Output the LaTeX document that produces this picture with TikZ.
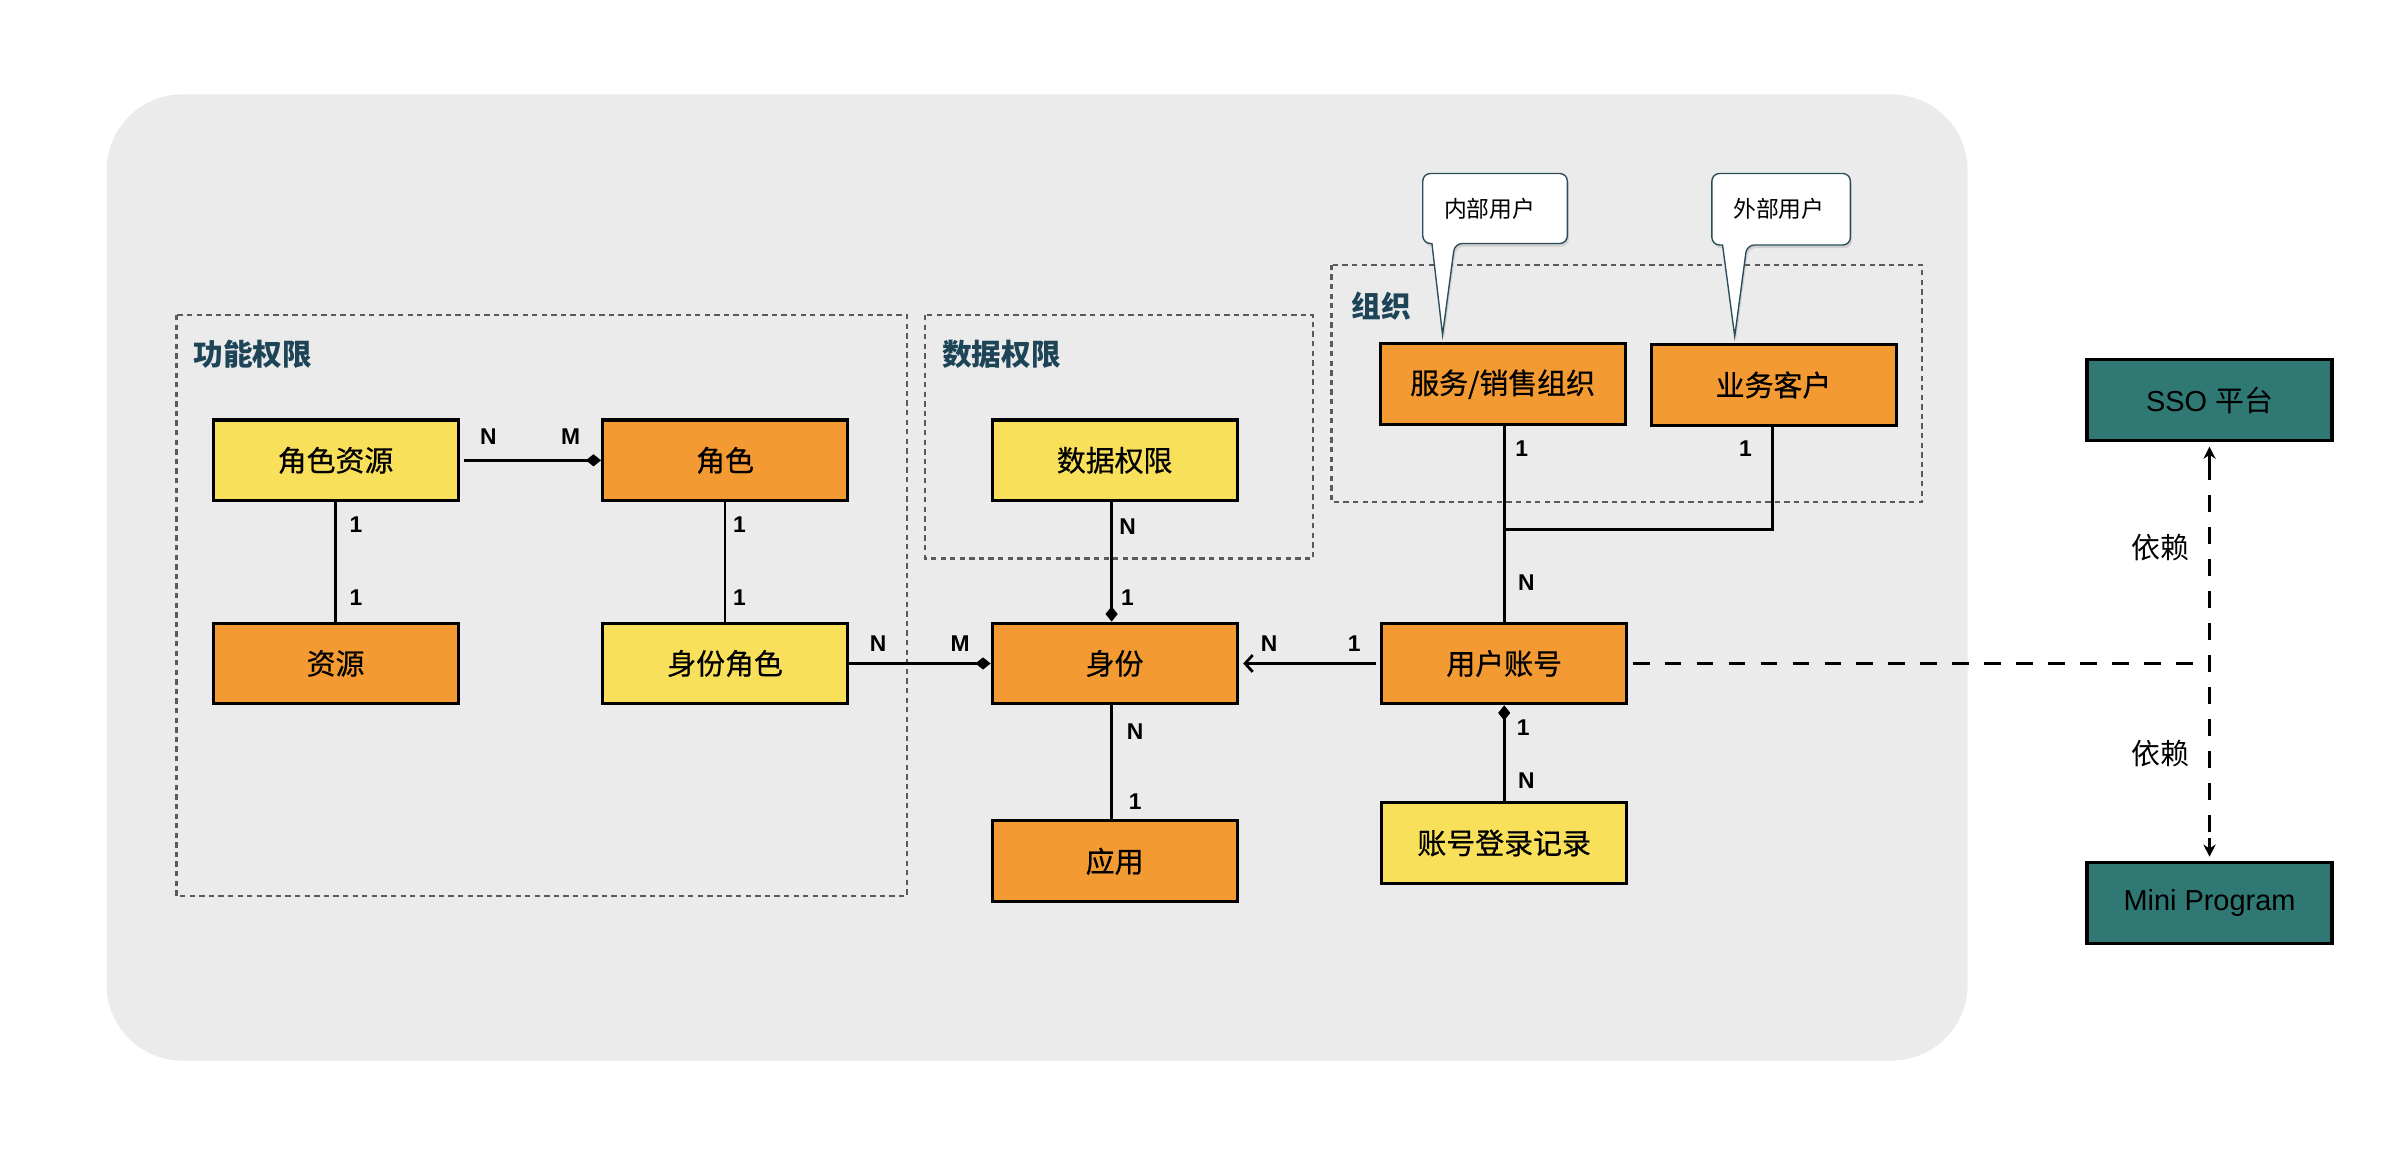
\documentclass[tikz,border=0pt]{standalone}
\usepackage{fontspec}
\setmainfont{Liberation Sans}
\newfontfamily\cjk{Noto Sans CJK SC}
\newfontfamily\cjkm{Noto Sans CJK SC}[FakeBold=0.6]
\usetikzlibrary{arrows.meta,shadows}
\definecolor{bgc}{HTML}{EBEBEB}
\definecolor{orng}{HTML}{F39A32}
\definecolor{yelw}{HTML}{F9E05A}
\definecolor{tealc}{HTML}{2F7873}
\definecolor{titlec}{HTML}{1D4557}
\definecolor{dashc}{HTML}{5A5A5A}
\definecolor{calloutc}{HTML}{2B4D5A}
\tikzset{
  ent/.style={draw=black, line width=2pt, minimum width=161pt, minimum height=53pt, inner sep=0pt, font=\cjkm\fontsize{19}{19}\selectfont},
  orangebox/.style={ent, fill=orng},
  yellowbox/.style={ent, fill=yelw},
  tealbox/.style={ent, fill=tealc, font=\fontsize{19}{19}\selectfont},
  card/.style={font=\bfseries\fontsize{15}{15}\selectfont, inner sep=0pt},
  grp/.style={draw=dashc, line width=1.4pt, dash pattern=on 3.5pt off 2.8pt},
  grptitle/.style={font=\cjk\bfseries\fontsize{19.5}{19.5}\selectfont, text=titlec, anchor=west, inner sep=0pt},
  link/.style={line width=1.8pt},
  diam/.style={link, -{Diamond[length=10pt,width=8pt]}},
  barb/.style={link, -{Straight Barb[length=5pt,width=11pt]}},
  dep/.style={line width=1.8pt, dash pattern=on 11pt off 10pt},
  deptip/.style={line width=1.8pt, -{Stealth[length=8pt,width=8pt]}},
  callout/.style={draw=calloutc, fill=white, line width=0.9pt, drop shadow={opacity=0.25, shadow xshift=1pt, shadow yshift=-2pt}},
  callouttext/.style={font=\cjk\fontsize{15}{15}\selectfont, inner sep=0pt},
  deptext/.style={font=\cjk\fontsize{19}{19}\selectfont, inner sep=0pt}
}
\begin{document}
\begin{tikzpicture}[x=1pt,y=-1pt]
\fill[white] (0,0) rectangle (1568,764);
\useasboundingbox (0,0) rectangle (1568,764);
\fill[bgc, rounded corners=50pt] (70,62) rectangle (1293,697);

% groups
\draw[grp] (116,207) rectangle (596,589);
\draw[grp] (608,207) rectangle (863,367);
\draw[grp] (875,174) rectangle (1263,330);
\node[grptitle] (t1) at (127,233) {功能权限};
\node[grptitle] (t2) at (619,233) {数据权限};
\node[grptitle] (t3) at (888,201) {组织};

% callouts
\draw[callout, rounded corners=5pt] (935,114) -- (1030,114) -- (1030,160) -- (956,160) [sharp corners] -- (948,220) -- (941,160) [rounded corners=5pt] -- (935,160) -- cycle;
\node[callouttext] (c1) at (979,137) {内部用户};
\draw[callout, rounded corners=5pt] (1125,114) -- (1216,114) -- (1216,161) -- (1148,161) [sharp corners] -- (1140,221) -- (1132,161) [rounded corners=5pt] -- (1125,161) -- cycle;
\node[callouttext] (c2) at (1169,137) {外部用户};

% entities
\node[yellowbox] (jszy) at (220.5,302.5) {角色资源};
\node[orangebox] (js) at (476.5,302.5) {角色};
\node[orangebox] (zy) at (220.5,436) {资源};
\node[yellowbox] (sfjs) at (476.5,436) {身份角色};
\node[yellowbox] (sjqx) at (732.5,302.5) {数据权限};
\node[orangebox] (sf) at (732.5,436) {身份};
\node[orangebox] (yy) at (732.5,566) {应用};
\node[orangebox] (yhzh) at (988.5,436) {用户账号};
\node[yellowbox] (dljl) at (988.5,554) {账号登录记录};
\node[orangebox] (fwzz) at (987.5,252.5) {服务/销售组织};
\node[orangebox] (ywkh) at (1165.5,253) {业务客户};
\node[tealbox] (sso) at (1452,263) {SSO {\cjk 平台}};
\node[tealbox] (mini) at (1452,593.5) {Mini Program};

% connectors
\draw[diam] ([xshift=3pt]jszy.east) -- (js.west);
\node[card] (l1) at (321,287) {N};
\node[card] (l2) at (375,287) {M};

\draw[link] (jszy.south) -- (zy.north);
\node[card] (l3) at (234,345) {1};
\node[card] (l4) at (234,393) {1};

\draw[link] (js.south) -- (sfjs.north);
\node[card] (l5) at (486,345) {1};
\node[card] (l6) at (486,393) {1};

\draw[diam] (sfjs.east) -- (sf.west);
\node[card] (l7) at (577,423) {N};
\node[card] (l8) at (631,423) {M};

\draw[diam] ([xshift=-2pt]sjqx.south) -- ([xshift=-2pt]sf.north);
\node[card] (l9) at (741,346) {N};
\node[card] (l10) at (741,393) {1};

\draw[link] ([xshift=-2pt]sf.south) -- ([xshift=-2pt]yy.north);
\node[card] (l11) at (746,481) {N};
\node[card] (l12) at (746,527) {1};

\draw[barb] ([xshift=-3pt]yhzh.west) -- ([xshift=3pt]sf.east);
\node[card] (l13) at (834,423) {N};
\node[card] (l14) at (890,423) {1};

\draw[diam] (dljl.north) -- (yhzh.south);
\node[card] (l15) at (1001,478) {1};
\node[card] (l16) at (1003,513) {N};

\coordinate (jn) at (988.5,348);
\draw[link] (fwzz.south -| jn) -- (jn) -| ([xshift=-0.5pt]ywkh.south);
\draw[link] (jn) -- (yhzh.north);
\node[card] (l17) at (1000,295) {1};
\node[card] (l18) at (1147,295) {1};
\node[card] (l19) at (1003,383) {N};

\coordinate (dj) at (1452,436);
\draw[dep] ([xshift=3pt]yhzh.east) -- (dj);
\draw[dep] ([yshift=-14pt]sso.south) -- ([yshift=14pt]mini.north);
\draw[deptip] ([yshift=-15pt]sso.south) -- ([yshift=-3pt]sso.south);
\draw[deptip] ([yshift=15pt]mini.north) -- ([yshift=3pt]mini.north);
\node[deptext] (d1) at (1420,360) {依赖};
\node[deptext] (d2) at (1420,495) {依赖};
\end{tikzpicture}
\end{document}
